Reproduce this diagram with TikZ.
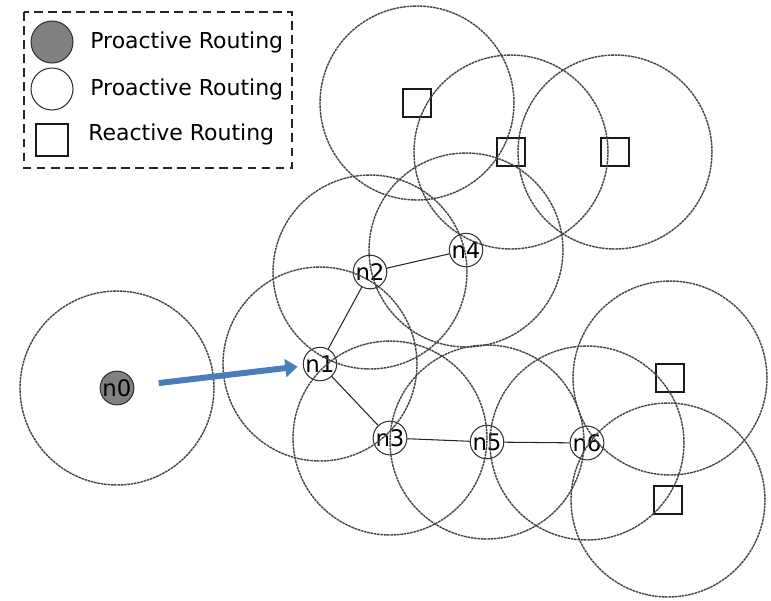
\documentclass[tikz,border=0pt]{standalone}
\usepackage{fontspec}
\setmainfont{DejaVu Sans}
\setsansfont{DejaVu Sans}
\usetikzlibrary{arrows.meta}
\definecolor{arrowblue}{HTML}{4A7EBB}
\definecolor{rangegray}{HTML}{444444}
\begin{document}
\begin{tikzpicture}[x=0.02cm,y=-0.02cm,
  host/.style={circle,draw=black!80,line width=0.6pt,minimum size=0.64cm,inner sep=0pt,font=\fontsize{13}{13}\selectfont},
  headnode/.style={host,fill=black!50},
  reactive/.style={rectangle,draw=black!90,line width=0.7pt,minimum size=0.56cm,inner sep=0pt},
  radiorange/.style={draw=rangegray,line width=0.8pt,dash pattern=on 1.5pt off 0.4pt},
  link/.style={draw=black!85,line width=0.6pt},
  legendtext/.style={anchor=west,inner sep=0pt,font=\fontsize{12.5}{12.5}\selectfont}]
\useasboundingbox (0,0) rectangle (771,600) ;
\node[headnode] (n0) at (117,388) {n0} ;
\node[host] (n1) at (320,364) {n1} ;
\node[host] (n2) at (370,272) {n2} ;
\node[host] (n3) at (390,438) {n3} ;
\node[host] (n4) at (466,250) {n4} ;
\node[host] (n5) at (487,442) {n5} ;
\node[host] (n6) at (587,443) {n6} ;
\node[reactive] (s1) at (417,103) {} ;
\node[reactive] (s2) at (511,152) {} ;
\node[reactive] (s3) at (615,152) {} ;
\node[reactive] (s4) at (670,378) {} ;
\node[reactive] (s5) at (668,500) {} ;
\foreach \h in {n0,n1,n2,n3,n4,n5,n6,s1,s2,s3,s4,s5}
  \draw[radiorange] (\h.center) circle [radius=1.94cm] ;
\draw[link] (n1) -- (n2) ;
\draw[link] (n2) -- (n4) ;
\draw[link] (n1) -- (n3) ;
\draw[link] (n3) -- (n5) ;
\draw[link] (n5) -- (n6) ;
\draw[arrowblue,line width=3.4pt,-{Triangle[length=7pt,width=10pt]},shorten <=14pt,shorten >=3pt] (n0) -- (n1) ;
\draw[black!85,line width=0.8pt,dash pattern=on 5pt off 3pt] (24,12) rectangle (292,168) ;
\node[headnode,minimum size=0.84cm] (k1) at (52,42) {} ;
\node[host,minimum size=0.84cm] (k2) at (52,89) {} ;
\node[reactive,minimum size=0.64cm] (k3) at (52,140) {} ;
\node[legendtext] (t1) at (90,42) {Proactive Routing} ;
\node[legendtext] (t2) at (90,89) {Proactive Routing} ;
\node[legendtext] (t3) at (88,134) {Reactive Routing} ;
\end{tikzpicture}
\end{document}
